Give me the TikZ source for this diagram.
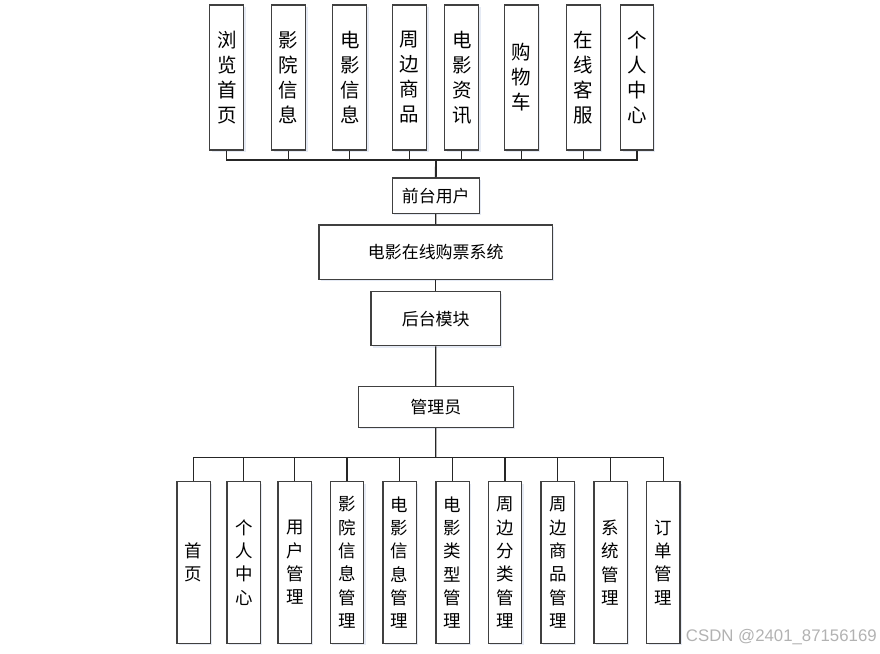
\documentclass[tikz,border=0pt]{standalone}
\usepackage{fontspec}
\newfontfamily\cjk{Noto Sans CJK SC}
\newfontfamily\wmfont{Liberation Sans}
\usetikzlibrary{shadows}
\definecolor{boxline}{HTML}{404040}
\definecolor{shadowc}{HTML}{D4DCEC}
\tikzset{
  box/.style={draw=boxline, line width=1pt, fill=white, inner sep=0pt, align=center,
    drop shadow={shadow xshift=1.5pt, shadow yshift=-1.5pt, fill=shadowc, opacity=0.6}},
  topbox/.style={box, minimum width=25.5pt, minimum height=108.75pt,
    font=\cjk\fontsize{14.6pt}{18.75pt}\selectfont},
  botbox/.style={box, minimum width=25pt, minimum height=121.2pt,
    font=\cjk\fontsize{13.1pt}{17.5pt}\selectfont},
  midbox/.style={box, font=\cjk\fontsize{12.7pt}{15pt}\selectfont},
  conn/.style={draw=black!85, line width=0.9pt}
}
\begin{document}
\begin{tikzpicture}[x=0.75pt,y=-0.75pt]
\useasboundingbox (0,0) rectangle (880,653);
% top row
\node[topbox] (t1) at (226.8,77.5) {浏\\览\\首\\页};
\node[topbox] (t2) at (288.5,77.5) {影\\院\\信\\息};
\node[topbox] (t3) at (349.8,77.5) {电\\影\\信\\息};
\node[topbox] (t4) at (409.5,77.5) {周\\边\\商\\品};
\node[topbox] (t5) at (461.8,77.5) {电\\影\\资\\讯};
\node[topbox] (t6) at (521.3,77.5) {购\\物\\车};
\node[topbox] (t7) at (583.3,77.5) {在\\线\\客\\服};
\node[topbox,minimum width=24.5pt] (t8) at (637,77.5) {个\\人\\中\\心};
% middle
\node[midbox, minimum width=65.25pt, minimum height=26.5pt] (fu) at (435.8,195.7) {前台用户};
\node[midbox, minimum width=175pt, minimum height=40.7pt] (sys) at (435.7,252.2) {电影在线购票系统};
\node[midbox, minimum width=97pt, minimum height=40.5pt] (ht) at (435.7,318.7) {后台模块};
\node[midbox, minimum width=116.25pt, minimum height=30.5pt] (adm) at (435.8,407) {管理员};
% bottom row
\node[botbox] (b1) at (193.7,562.5) {首\\页};
\node[botbox] (b2) at (243.8,562.5) {个\\人\\中\\心};
\node[botbox] (b3) at (294.8,562.5) {用\\户\\管\\理};
\node[botbox] (b4) at (347,562.5) {影\\院\\信\\息\\管\\理};
\node[botbox] (b5) at (399.7,562.5) {电\\影\\信\\息\\管\\理};
\node[botbox] (b6) at (452.5,562.5) {电\\影\\类\\型\\管\\理};
\node[botbox] (b7) at (505,562.5) {周\\边\\分\\类\\管\\理};
\node[botbox] (b8) at (557.8,562.5) {周\\边\\商\\品\\管\\理};
\node[botbox] (b9) at (610.5,562.5) {系\\统\\管\\理};
\node[botbox] (b10) at (663.2,562.5) {订\\单\\管\\理};
% bus coordinates
\coordinate (topbus) at (436,160);
\coordinate (botbus) at (435.7,457.3);
% connectors
\foreach \n in {t1,t2,t3,t4,t5,t6,t7,t8}
  \draw[conn] (\n.south) |- (topbus);
\draw[conn, line width=1.4pt] (topbus) -- (fu.north);
\draw[conn] (fu.south) -- (sys.north);
\draw[conn] (sys.south) -- (ht.north);
\draw[conn] (ht.south) -- (adm.north);
\draw[conn] (adm.south) -- (botbus);
\foreach \n in {b1,b2,b3,b4,b5,b6,b7,b8,b9,b10}
  \draw[conn] (botbus) -| (\n.north);
% watermark
\node[anchor=east, inner sep=0pt, text=black!30, font=\wmfont\fontsize{12.6pt}{14pt}\selectfont] (wm) at (877,637.5) {CSDN @2401\_87156169};
\end{tikzpicture}
\end{document}
